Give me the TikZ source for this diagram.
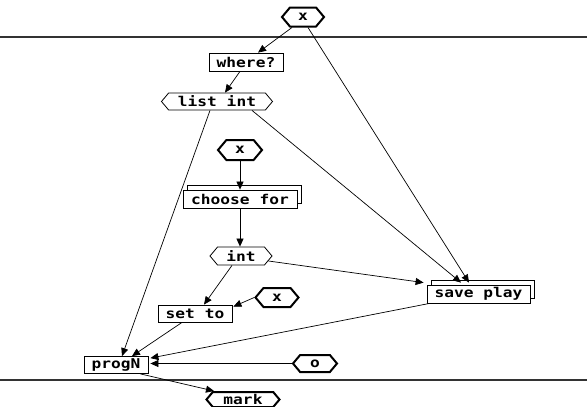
\documentclass[tikz,border=0pt]{standalone}
\usepackage{fontspec}
\newfontfamily\pixfont[FakeStretch=1.2]{DejaVu Sans Mono}
\usetikzlibrary{shapes.symbols,shadows,calc,arrows.meta}
\begin{document}
\begin{tikzpicture}[x=1pt,y=-1pt,
  every node/.style={font=\pixfont\bfseries\fontsize{13.5}{13.5}\selectfont, inner sep=0pt, fill=white},
  hexa/.style={draw, signal, signal to=west and east, signal from=nowhere, signal pointer angle=100, line width=0.8pt},
  hexb/.style={hexa, line width=2pt},
  boxa/.style={draw, rectangle, line width=0.8pt},
  boxs/.style={boxa, copy shadow={shadow xshift=4pt, shadow yshift=5pt}},
  arr/.style={line width=0.7pt, -{Triangle[length=8pt,width=7pt]}},
  sep/.style={line width=1.2pt, draw=black!80}
]
\useasboundingbox (0,0) rectangle (587,407);
\draw[sep] (0,37) -- (587,37);
\draw[sep] (0,380) -- (587,380);

\node[hexb, minimum width=42pt, minimum height=19pt] (xtop) at (303,17) {x};
\node[boxa, minimum width=74pt, minimum height=18pt] (where) at (246,62) {where?};
\node[hexa, minimum width=111pt, minimum height=17pt] (listint) at (217,101.5) {list int};
\node[hexb, minimum width=44pt, minimum height=20pt] (xtwo) at (240,150) {x};
\node[boxs, minimum width=114pt, minimum height=18pt] (choose) at (240,199) {choose for};
\node[hexa, minimum width=62pt, minimum height=18pt] (int) at (241,256) {int};
\node[hexb, minimum width=43pt, minimum height=19pt] (xthree) at (277,297.5) {x};
\node[boxa, minimum width=74pt, minimum height=17pt] (setto) at (195,313.5) {set to};
\node[boxs, minimum width=103pt, minimum height=18pt] (save) at (478.5,294) {save play};
\node[boxa, minimum width=64pt, minimum height=17pt] (progN) at (116,365) {progN};
\node[hexb, minimum width=44pt, minimum height=17pt] (o) at (315,363.5) {o};
\node[hexb, minimum width=73pt, minimum height=15pt] (mark) at (243,399.5) {mark};

\draw[arr] ($(xtop.south)+(-11,0)$) -- ($(where.north)+(12,0)$);
\draw[arr] ($(xtop.south)+(5,0)$) -- ($(save.north)+(-9.5,-2)$);
\draw[arr] ($(where.south)+(-6,0)$) -- ($(listint.north)+(8,0)$);
\draw[arr] ($(listint.south)+(-7,0)$) -- ($(progN.north)+(6,0)$);
\draw[arr] ($(listint.south)+(35,0)$) -- ($(save.north)+(-17.5,-2)$);
\draw[arr] (xtwo.south) -- (choose.north);
\draw[arr] (choose.south) -- (choose.south |- int.north);
\draw[arr] ($(int.south)+(-9,0)$) -- ($(setto.north)+(9,0)$);
\draw[arr] ($(int.east)+(-4,5)$) -- ($(save.north west)+(-3,-2)$);
\draw[arr] (xthree.west) -- ($(setto.north east)+(1,2)$);
\draw[arr] ($(setto.south)+(-13,0)$) -- ($(progN.north)+(16,0)$);
\draw[arr] ($(save.south west)+(3,0)$) -- ($(progN.north east)+(2,2)$);
\draw[arr] (o.west) -- ($(progN.east |- o.west)+(2,0)$);
\draw[arr] ($(progN.south east)+(-8,0)$) -- ($(mark.north)+(-29,0)$);
\end{tikzpicture}
\end{document}
